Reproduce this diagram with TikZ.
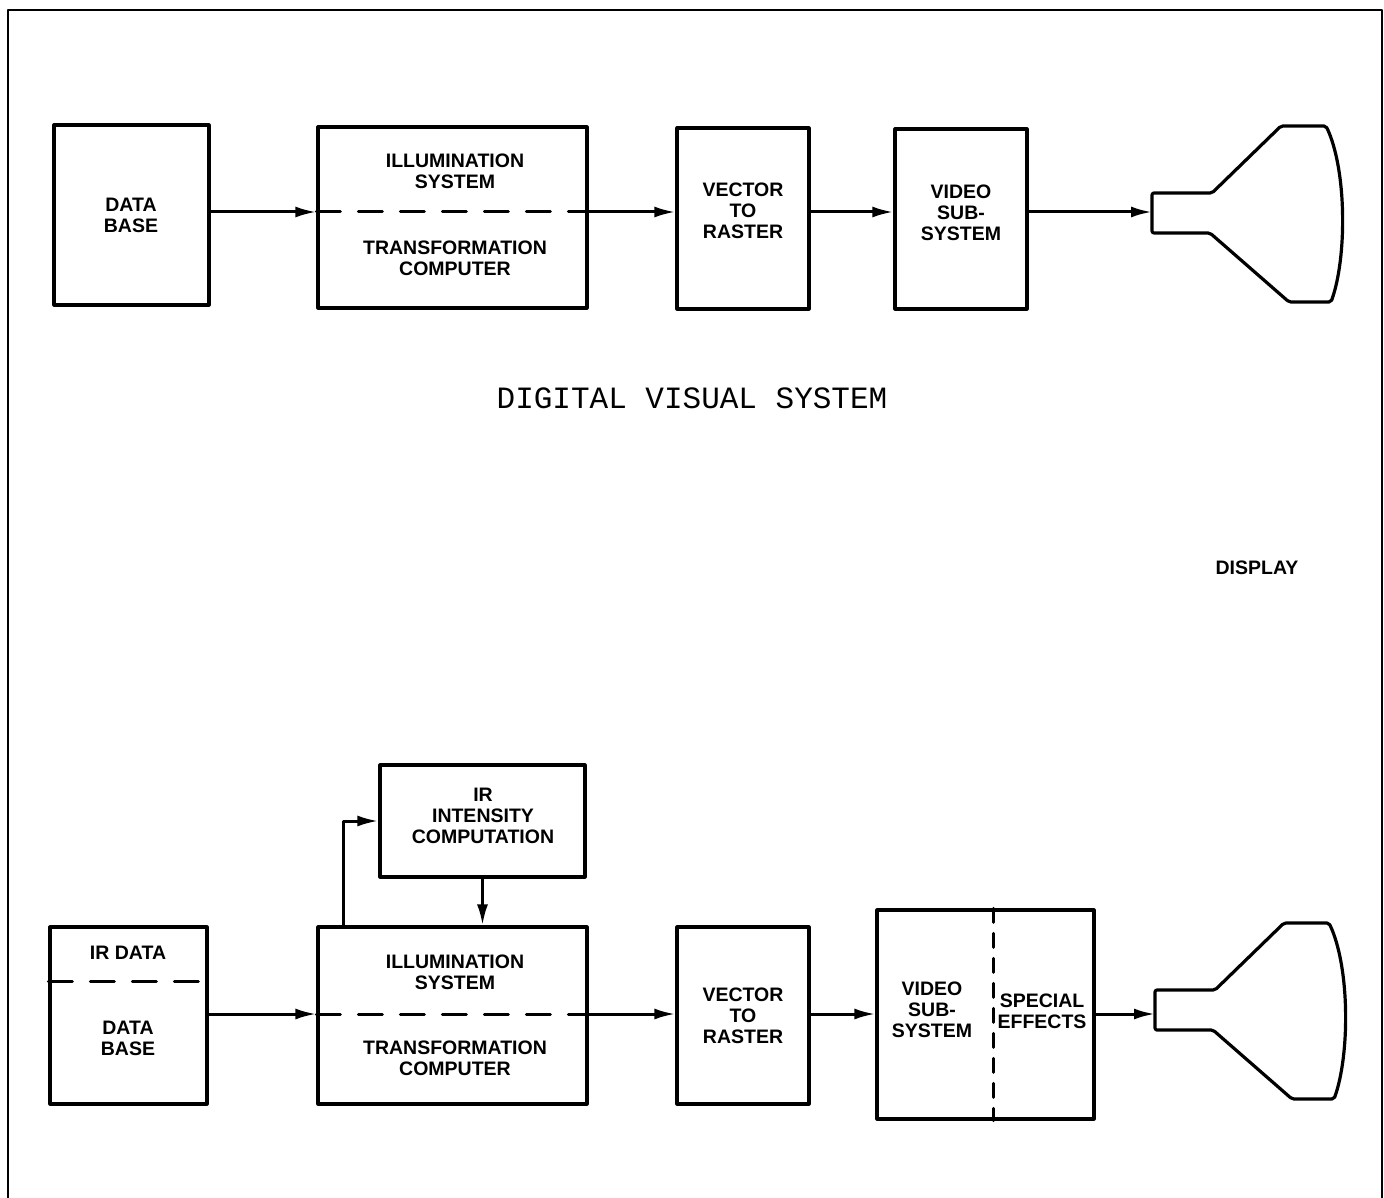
\documentclass[tikz,border=0pt]{standalone}
\usepackage{fontspec}
\setmainfont{Liberation Sans}
\setmonofont{Liberation Mono}
\usetikzlibrary{arrows.meta,calc}

\tikzset{
  blk/.style={draw, line width=3.2pt, inner sep=0pt},
  lbl/.style={font=\bfseries\fontsize{19.5}{21}\selectfont, align=center, inner sep=0pt},
  flow/.style={line width=3pt, -{Latex[length=21pt,width=11pt]}},
  split/.style={line width=3pt, dash pattern=on 24pt off 18pt},
}

\begin{document}
\begin{tikzpicture}[line cap=round, line join=round, x=1pt, y=-1pt]
  \useasboundingbox (0,0) rectangle (1384,1198);
  % frame
  \draw[line width=2pt] (8,1198) -- (8,10) -- (1382,10) -- (1382,1198);

  \coordinate (lvlA) at (0,212);
  \coordinate (lvlB) at (0,1014);

  % upper chain
  \node[blk, minimum width=155pt, minimum height=180pt] (dbA) at (131.5,215) {};
  \node[blk, minimum width=269pt, minimum height=181pt] (ilA) at (452.5,217.5) {};
  \node[blk, minimum width=132pt, minimum height=181pt] (vrA) at (743,218.5) {};
  \node[blk, minimum width=132pt, minimum height=180pt] (vsA) at (961,219) {};
  \draw[split] (ilA.west |- lvlA) -- (ilA.east |- lvlA);

  \node[lbl] (dbAt) at (131,215) {DATA\\BASE};
  \node[lbl] (ilAt) at (455,171) {ILLUMINATION\\SYSTEM};
  \node[lbl] (tcAt) at (455,258) {TRANSFORMATION\\COMPUTER};
  \node[lbl] (vrAt) at (743,211) {VECTOR\\TO\\RASTER};
  \node[lbl] (vsAt) at (961,213) {VIDEO\\SUB-\\SYSTEM};

  % display tubes
  \foreach \sx/\sy/\nm in {0/0/crtA, 3/797/crtB}{
    \begin{scope}[shift={(\sx,\sy)}]
      \draw[line width=3.2pt, rounded corners=2pt] (1152,193) -- (1212,193) -- (1281,126) -- (1326,126)
        .. controls (1347,170) and (1347,258) .. (1331,302) -- (1289,302) -- (1210,233) -- (1152,233) -- cycle;
      \coordinate (\nm) at (1152,213);
    \end{scope}
  }

  \draw[flow] (dbA.east |- lvlA) -- (ilA.west |- lvlA);
  \draw[flow] (ilA.east |- lvlA) -- (vrA.west |- lvlA);
  \draw[flow] (vrA.east |- lvlA) -- (vsA.west |- lvlA);
  \draw[flow] (vsA.east |- lvlA) -- (crtA |- lvlA);

  \node[font=\ttfamily\fontsize{31}{31}\selectfont, inner sep=0pt] (title) at (692,398) {DIGITAL VISUAL SYSTEM};
  \node[lbl] (disp) at (1257,568) {DISPLAY};

  % lower chain
  \node[blk, minimum width=157pt, minimum height=177pt] (dbB) at (128.5,1015.5) {};
  \node[blk, minimum width=205pt, minimum height=112pt] (icB) at (482.5,821) {};
  \node[blk, minimum width=269pt, minimum height=177pt] (ilB) at (452.5,1015.5) {};
  \node[blk, minimum width=132pt, minimum height=177pt] (vrB) at (743,1015.5) {};
  \node[blk, minimum width=217pt, minimum height=209pt] (vsB) at (985.5,1014.5) {};
  \coordinate (irsplit) at (0,981);
  \coordinate (tap) at (343,0);
  \coordinate (fxsplit) at (993,0);
  \draw[split] (dbB.west |- irsplit) -- (dbB.east |- irsplit);
  \draw[split] (ilB.west |- lvlB) -- (ilB.east |- lvlB);
  \draw[line width=3pt, dash pattern=on 14pt off 11pt] (vsB.north -| fxsplit) -- (vsB.south -| fxsplit);

  \node[lbl] (irBt) at (128,953) {IR DATA};
  \node[lbl] (dbBt) at (128,1038) {DATA\\BASE};
  \node[lbl] (icBt) at (483,816) {IR\\INTENSITY\\COMPUTATION};
  \node[lbl] (ilBt) at (455,972) {ILLUMINATION\\SYSTEM};
  \node[lbl] (tcBt) at (455,1058) {TRANSFORMATION\\COMPUTER};
  \node[lbl] (vrBt) at (743,1016) {VECTOR\\TO\\RASTER};
  \node[lbl] (vsBt) at (932,1010) {VIDEO\\SUB-\\SYSTEM};
  \node[lbl] (fxBt) at (1042,1011) {SPECIAL\\EFFECTS};

  \draw[flow] (dbB.east |- lvlB) -- (ilB.west |- lvlB);
  \draw[flow] (ilB.north -| tap) |- (icB.west);
  \draw[flow] (icB.south) -- (icB.south |- ilB.north);
  \draw[flow] (ilB.east |- lvlB) -- (vrB.west |- lvlB);
  \draw[flow] (vrB.east |- lvlB) -- (vsB.west |- lvlB);
  \draw[flow] (vsB.east |- lvlB) -- (crtB |- lvlB);
\end{tikzpicture}
\end{document}
